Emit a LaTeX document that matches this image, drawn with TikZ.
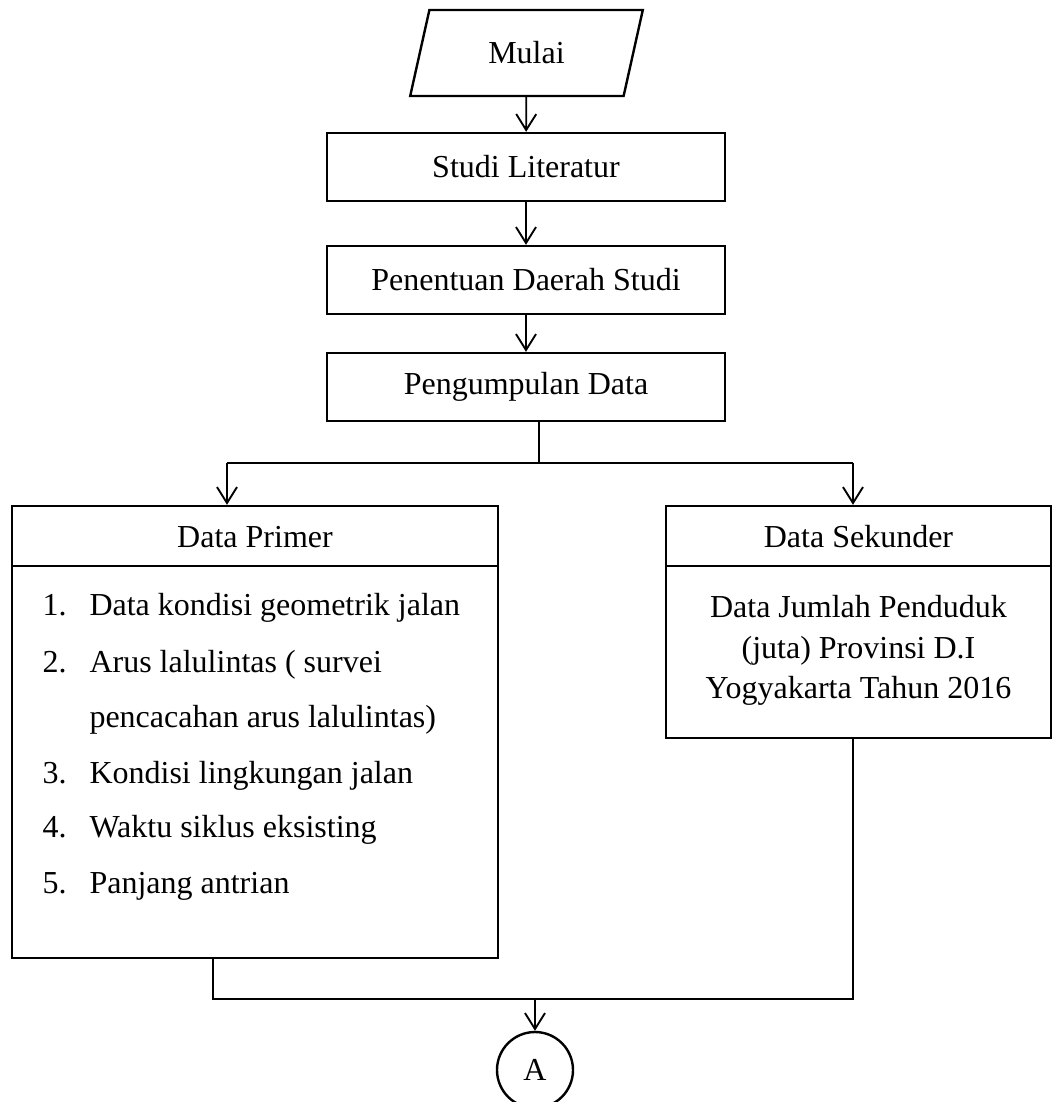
\documentclass[tikz,border=0pt]{standalone}
\usepackage{fontspec}
\setmainfont{Liberation Serif}
\usetikzlibrary{arrows.meta,shapes.geometric}
\tikzset{>={Straight Barb[length=6pt,width=7.5pt]}}
\tikzset{%
    box/.style={%
        draw, line width=0.9pt, inner sep=0pt,
        minimum width=149.25pt, minimum height=25.5pt
    },
    arr/.style={->, line width=0.7pt},
    con/.style={line width=0.45pt},
    item/.style={anchor=base west, inner sep=0pt}
}

\begin{document}
\begin{tikzpicture}[x=0.375pt,y=-0.375pt,font=\fontsize{12pt}{14pt}\selectfont]
\useasboundingbox (0,0) rectangle (1054,1102);
% top chain
\node[draw, line width=0.9pt, shape=trapezium, trapezium left angle=77,
      trapezium right angle=103, trapezium stretches=true,
      minimum width=87.4pt, minimum height=32.25pt] (mulai) at (526.5,53) {Mulai};
\node[box] (studi) at (526,167) {Studi Literatur};
\node[box] (daerah) at (526,280) {Penentuan Daerah Studi};
\node[box] (kumpul) at (526,387) {Pengumpulan Data};
\draw[arr] (mulai) -- (studi);
\draw[arr] (studi) -- (daerah);
\draw[arr] (daerah) -- (kumpul);
% split
\coordinate (split) at (539,463);
\coordinate (lt) at (227,463);
\coordinate (rt) at (853,463);
\draw[con] (kumpul.south -| split) -- (split);
\draw[con] (lt) -- (rt);
% data primer
\node[draw, line width=0.9pt, minimum width=182.25pt, minimum height=169.5pt] (primer) at (255,732) {};
\draw[line width=0.9pt] (primer.west |- 0,566) -- (primer.east |- 0,566);
\node[anchor=base, inner sep=0pt] (hprimer) at (255,547) {Data Primer};
\node[item] (n1) at (42,615) {1.};
\node[item] (t1) at (89,615) {Data kondisi geometrik jalan};
\node[item] (n2) at (42,672) {2.};
\node[item] (t2) at (89,672) {Arus lalulintas ( survei};
\node[item] (t2b) at (89,727) {pencacahan arus lalulintas)};
\node[item] (n3) at (42,783) {3.};
\node[item] (t3) at (89,783) {Kondisi lingkungan jalan};
\node[item] (n4) at (42,837) {4.};
\node[item] (t4) at (89,837) {Waktu siklus eksisting};
\node[item] (n5) at (42,893) {5.};
\node[item] (t5) at (89,893) {Panjang antrian};
% data sekunder
\node[draw, line width=0.9pt, minimum width=144.4pt, minimum height=87pt] (sekunder) at (858.5,622) {};
\draw[line width=0.9pt] (sekunder.west |- 0,566) -- (sekunder.east |- 0,566);
\node[anchor=base, inner sep=0pt] (hsekunder) at (858.5,547) {Data Sekunder};
\node[anchor=base, inner sep=0pt] (s1) at (858.5,617) {Data Jumlah Penduduk};
\node[anchor=base, inner sep=0pt] (s2) at (858.5,658) {(juta) Provinsi D.I};
\node[anchor=base, inner sep=0pt] (s3) at (858.5,698) {Yogyakarta Tahun 2016};
\draw[arr] (lt) -- (lt |- primer.north);
\draw[arr] (rt) -- (rt |- sekunder.north);
% join
\node[draw, circle, line width=0.9pt, minimum size=28.5pt, inner sep=0pt] (a) at (535,1070) {A};
\coordinate (lb) at (213,999);
\coordinate (rb) at (853,999);
\draw[con] (primer.south -| lb) -- (lb) -- (rb) -- (sekunder.south -| rb);
\draw[arr] (a.north |- lb) -- (a.north);
\end{tikzpicture}
\end{document}
